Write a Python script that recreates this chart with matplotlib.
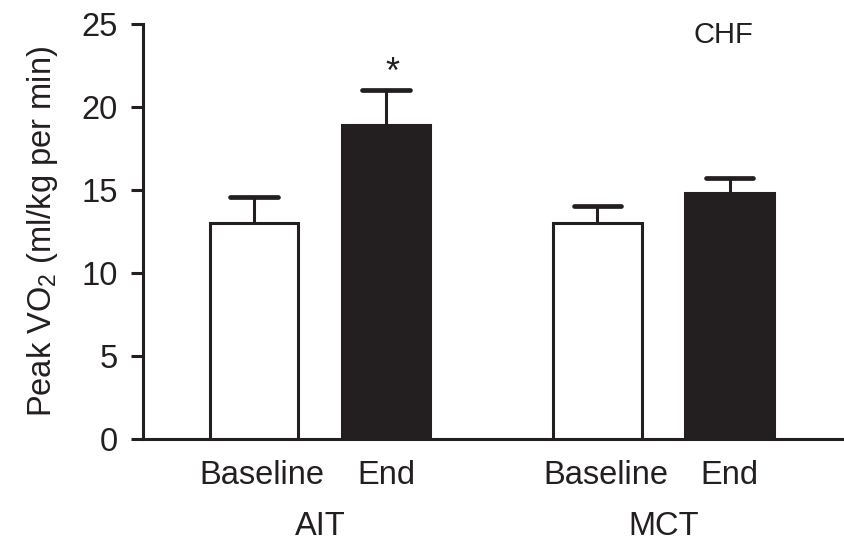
import matplotlib.pyplot as plt
import matplotlib.transforms as mtransforms

plt.rcParams['font.family'] = ['Liberation Sans', 'DejaVu Sans']
plt.rcParams['mathtext.default'] = 'regular'

groups = ['AIT', 'MCT']
phases = ['Baseline', 'End']
# peak VO2 means and SEM (upper whisker only)
ait_means = [13.0, 18.9]
ait_err = [1.6, 2.1]
mct_means = [13.0, 14.8]
mct_err = [1.05, 0.9]

ink = '#231f20'
fills = ['white', ink]
positions = [[0, 1], [2.6, 3.6]]
bar_w = 0.67
cap_w = 0.36

fig = plt.figure(figsize=(8.45, 5.48), dpi=100)
ax = fig.add_axes([0.169, 0.199, 0.829, 0.757])

for pos, means, errs in zip(positions, [ait_means, mct_means], [ait_err, mct_err]):
    tops = [m + e for m, e in zip(means, errs)]
    ax.bar(pos, means, width=bar_w, color=fills, edgecolor=ink, linewidth=2.2, zorder=3)
    ax.vlines(pos, means, tops, color=ink, linewidth=2.2, zorder=2)
    ax.hlines(tops, [p - cap_w / 2 for p in pos], [p + cap_w / 2 for p in pos],
              color=ink, linewidth=3.4, capstyle='round', zorder=2)

# significance marker over AIT end
ax.text(positions[0][1] + 0.05, ait_means[1] + ait_err[1] + 1.0, '*', ha='center', va='center',
        fontsize=26, color=ink)
ax.text(0.829, 0.973, 'CHF', transform=ax.transAxes, ha='center', va='center',
        fontsize=21, color=ink)

ax.set_xlim(-0.84, 4.46)
ax.set_ylim(0, 25)
ax.set_yticks([0, 5, 10, 15, 20, 25])
ax.set_xticks([p for pair in positions for p in pair])
ax.set_xticklabels(phases * 2)
ax.tick_params(axis='y', length=9, width=2.2, color=ink, labelsize=23.5, labelcolor=ink, pad=9)
ax.tick_params(axis='x', length=0, labelsize=23.5, labelcolor=ink, pad=15)

# baseline labels sit a little right of their bars
shift = mtransforms.ScaledTranslation(8 / 100, 0, fig.dpi_scale_trans)
for lab in ax.get_xticklabels():
    if lab.get_text() == 'Baseline':
        lab.set_transform(lab.get_transform() + shift)

for i, g in enumerate(groups):
    ax.text(sum(positions[i]) / 2, -0.21, g, transform=ax.get_xaxis_transform(),
            ha='center', va='center', fontsize=23.5, color=ink)

ax.set_ylabel('Peak VO$_2$ (ml/kg per min)', fontsize=23.5, color=ink, labelpad=15)

for s in ['top', 'right']:
    ax.spines[s].set_visible(False)
for s in ['left', 'bottom']:
    ax.spines[s].set_linewidth(2.2)
    ax.spines[s].set_color(ink)

fig.savefig('out.png', dpi=100)
